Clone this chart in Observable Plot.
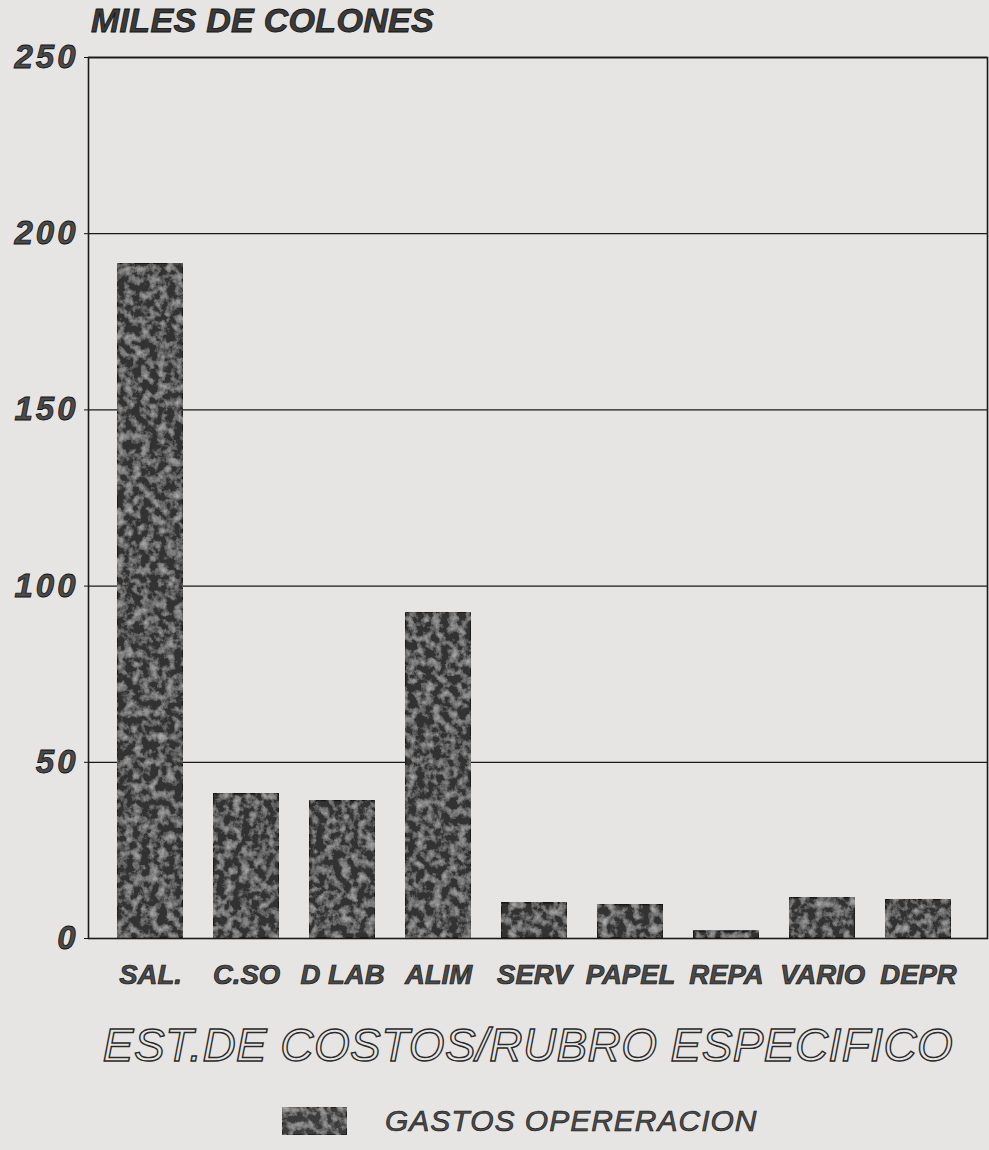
<!DOCTYPE html>
<html>
<head>
<meta charset="utf-8">
<script src="https://cdn.jsdelivr.net/npm/d3@7"></script>
<script src="https://cdn.jsdelivr.net/npm/@observablehq/plot@0.6"></script>
<style>
  html, body { margin: 0; padding: 0; background: #e7e5e4; }
  #wrap { position: relative; width: 989px; height: 1150px; overflow: hidden; background: #e7e5e4; font-family: "Liberation Sans", Arial, sans-serif; }
  #chart { position: absolute; left: 0; top: 0; }
  .lbl { position: absolute; white-space: nowrap; font-style: italic; line-height: 1.15; }
  #ytitle { left: 91px; top: 1px; font-size: 34px; font-weight: bold; color: #3a3a3a; -webkit-text-stroke: 0.8px #111; letter-spacing: 0.3px; }
  #title { left: 0; width: 1056px; text-align: center; top: 1019px; font-size: 46px; color: #e7e5e4; -webkit-text-stroke: 1.4px #2a2a2a; letter-spacing: 0.4px; }
  #legend { left: 282px; top: 1104px; display: flex; align-items: center; }
  #legend span { margin-left: 38px; font-size: 30px; color: #4a4a4a; -webkit-text-stroke: 0.6px #111; letter-spacing: 1px; }
  svg text { font-style: italic; font-weight: bold; }
  g[aria-label="y-axis tick label"] text { font-size: 33px; letter-spacing: 3px; fill: #4a4a4a; stroke: #111; stroke-width: 0.8px; }
  g[aria-label="x-axis tick label"] text { font-size: 27.5px; fill: #4a4a4a; stroke: #111; stroke-width: 0.7px; }
  g[aria-label="bar"] rect { filter: url(#grain); }
</style>
</head>
<body>
<div id="wrap">
  <div id="chart"></div>
  <div class="lbl" id="ytitle">MILES DE COLONES</div>
  <div class="lbl" id="title">EST.DE COSTOS/RUBRO ESPECIFICO</div>
  <div class="lbl" id="legend">
    <svg width="65" height="28"><rect x="0.5" y="0.5" width="64" height="27" fill="#3a3a3a" stroke="#222" style="filter:url(#grain2)"/>
      <defs><filter id="grain2" x="0" y="0" width="100%" height="100%">
        <feTurbulence type="fractalNoise" baseFrequency="0.13" numOctaves="4" seed="5" result="n"/>
        <feColorMatrix in="n" type="matrix" values="0 0 0 0 0.45  0 0 0 0 0.45  0 0 0 0 0.45  1.8 0 0 0 -0.75" result="spots"/>
        <feComposite in="spots" in2="SourceGraphic" operator="atop"/>
      </filter></defs></svg>
    <span>GASTOS OPERERACION</span>
  </div>
</div>
<script>
const categories = ["SAL.", "C.SO", "D LAB", "ALIM", "SERV", "PAPEL", "REPA", "VARIO", "DEPR"];
const values = [191.5, 41, 39, 92.5, 10, 9.5, 2, 11.5, 11];
const yTicks = [0, 50, 100, 150, 200, 250];
const gridLines = [50, 100, 150, 200, 250];

const data = categories.map((c, i) => ({cat: c, value: values[i]}));

const H = 1005;
const plot = Plot.plot({
  width: 989,
  height: H,
  marginTop: 57,
  marginLeft: 88,
  marginRight: 2,
  marginBottom: H - 938,
  style: {background: "transparent", fontFamily: "'Liberation Sans', Arial, sans-serif", color: "#111"},
  x: {domain: categories, range: [86, 982], padding: 0.31, label: null, tickSize: 0, tickPadding: 26},
  y: {domain: [0, 250], ticks: yTicks, label: null, tickSize: 4, tickPadding: 6},
  marks: [
    Plot.ruleY(gridLines, {stroke: "#1a1a1a", strokeWidth: 1.3}),
    Plot.barY(data, {x: "cat", y: "value", fill: "#333333", stroke: "#161616", strokeWidth: 1.5}),
    Plot.frame({stroke: "#1a1a1a", strokeWidth: 1.6})
  ]
});

const ns = "http://www.w3.org/2000/svg";
const defs = document.createElementNS(ns, "defs");
defs.innerHTML = `<filter id="grain" x="0" y="0" width="100%" height="100%">
  <feTurbulence type="fractalNoise" baseFrequency="0.12" numOctaves="4" seed="3" result="n"/>
  <feColorMatrix in="n" type="matrix" values="0 0 0 0 0.45  0 0 0 0 0.45  0 0 0 0 0.45  1.8 0 0 0 -0.75" result="spots"/>
  <feComposite in="spots" in2="SourceGraphic" operator="atop"/>
</filter>`;
plot.insertBefore(defs, plot.firstChild);
document.getElementById("chart").appendChild(plot);
</script>
</body>
</html>
